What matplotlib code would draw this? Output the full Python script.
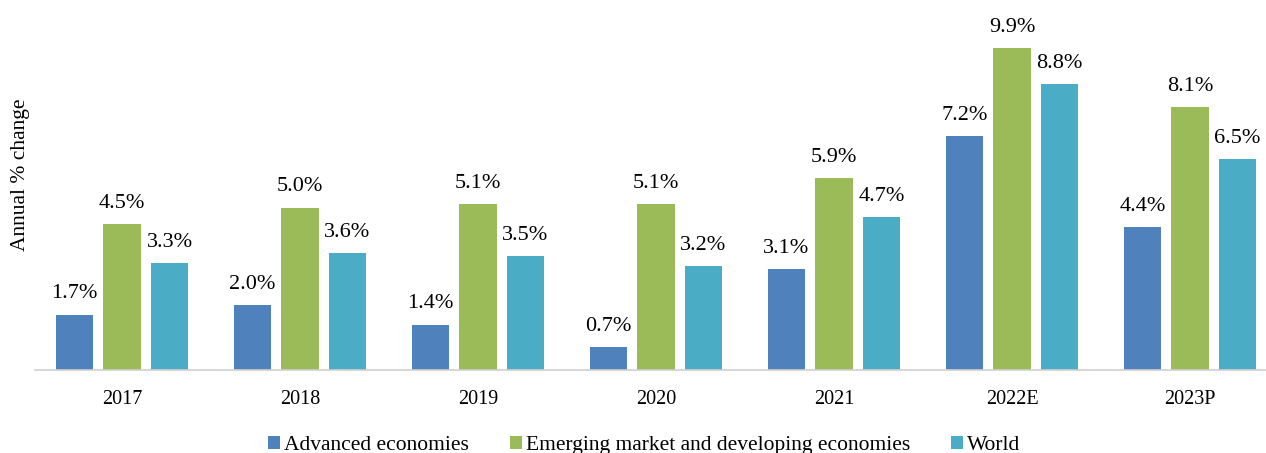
import matplotlib.pyplot as plt
import numpy as np

plt.rcParams['font.family'] = ['Liberation Serif', 'DejaVu Serif']

years = ['2017', '2018', '2019', '2020', '2021', '2022E', '2023P']
advanced = [1.7, 2.0, 1.4, 0.7, 3.1, 7.2, 4.4]
emerging = [4.5, 5.0, 5.1, 5.1, 5.9, 9.9, 8.1]
world = [3.3, 3.6, 3.5, 3.2, 4.7, 8.8, 6.5]

series = [('Advanced economies', advanced, '#4f81bd'),
          ('Emerging market and developing economies', emerging, '#9bbb59'),
          ('World', world, '#4bacc6')]

fig = plt.figure(figsize=(12.66, 4.53), dpi=100)
ax = fig.add_axes([0.0276, 0.183, 0.9724, 0.789])

x = np.arange(len(years))
w = 0.213
off = 0.267
for i, (name, vals, col) in enumerate(series):
    bars = ax.bar(x + (i - 1) * off, vals, w, color=col, label=name)
    for b, v in zip(bars, vals):
        ax.text(b.get_x() + b.get_width() / 2, v + 0.35, f'{v:.1f}%',
                ha='center', va='bottom', fontsize=16)

ax.set_xlim(-0.489, 6.427)
ax.set_ylim(0, 11)
ax.set_xticks(x)
ax.set_xticklabels(years, fontsize=14.5)
ax.tick_params(axis='x', length=0, pad=14)
ax.set_yticks([])
for s in ['top', 'right', 'left']:
    ax.spines[s].set_visible(False)
ax.spines['bottom'].set_color('#d0d0d0')
ax.spines['bottom'].set_linewidth(1.2)
fig.text(0.016, 0.614, 'Annual % change', rotation=90, ha='center', va='center', fontsize=15.5)

fig.legend(loc='center', bbox_to_anchor=(0.509, 0.016), ncol=3, frameon=False,
           fontsize=15.5, handlelength=0.55, handleheight=0.55, handletextpad=0.2,
           columnspacing=1.9)

fig.savefig('out.png', dpi=100)
